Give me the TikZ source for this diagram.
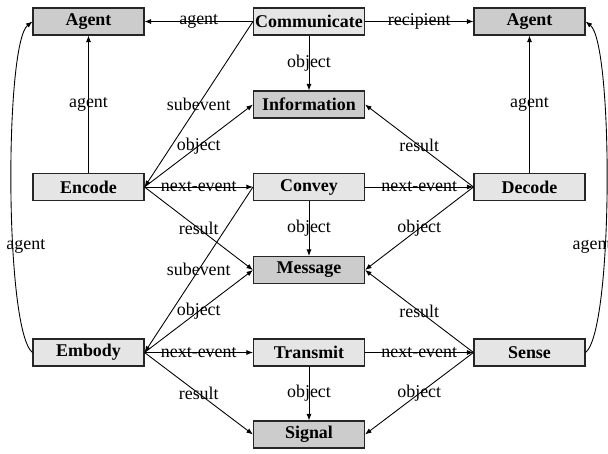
\documentclass[tikz,border=0pt]{standalone}
\usepackage{fontspec}
\setmainfont{Liberation Serif}
\usetikzlibrary{arrows.meta}

\definecolor{evfill}{gray}{0.9}
\definecolor{entfill}{gray}{0.8}

\begin{document}
\begin{tikzpicture}

% ---- Styles -----------------------------------------------------------------
\tikzset{
  box/.style={draw=black!85, line width=0.6pt, minimum width=\CW,
              minimum height=\RH, inner sep=0pt,
              font=\fontsize{10.2}{12}\selectfont\bfseries},
  ev/.style={box, fill=evfill},    % events
  ent/.style={box, fill=entfill},  % entities
  rel/.style={-{Latex[length=1.3mm,width=1mm]}, line width=0.5pt},
  lbl/.style={font=\fontsize{10.2}{12}\selectfont, inner sep=1pt},
}

\def\CW{2.22cm}  % box width
\def\RH{0.54cm}  % box height

\useasboundingbox (0,0) rectangle (12.16,-9.06);

% ---- Boxes ------------------------------------------------------------------
\node[ent] (agentL) at (1.77,-0.43)  {Agent};
\node[ev]  (comm)   at (6.18,-0.43)  {Communicate};
\node[ent] (agentR) at (10.59,-0.43) {Agent};
\node[ent] (info)   at (6.18,-2.09)  {Information};
\node[ev]  (encode) at (1.77,-3.74)  {Encode};
\node[ev]  (convey) at (6.18,-3.74)  {Convey};
\node[ev]  (decode) at (10.59,-3.74) {Decode};
\node[ent] (msg)    at (6.18,-5.40)  {Message};
\node[ev]  (embody) at (1.77,-7.05)  {Embody};
\node[ev]  (trans)  at (6.18,-7.05)  {Transmit};
\node[ev]  (sense)  at (10.59,-7.05) {Sense};
\node[ent] (signal) at (6.18,-8.69)  {Signal};

% ---- Communicate ------------------------------------------------------------
\draw[rel] (comm.west) -- node[lbl] {agent} (agentL.east);
\draw[rel] (comm.east) -- node[lbl] {recipient} (agentR.west);
\draw[rel] (comm.south) -- node[lbl] {object} (info.north);
\draw[rel] (comm.west) -- node[lbl] {subevent} (encode.east);
\draw[rel] (convey.west) -- node[lbl] {subevent} (embody.east);

% ---- Encode / Convey / Decode -----------------------------------------------
\draw[rel] (encode.north) -- node[lbl] {agent} (agentL.south);
\draw[rel] (encode.east) -- node[lbl] {object} (info.west);
\draw[rel] (encode.east) -- node[lbl] {next-event} (convey.west);
\draw[rel] (encode.east) -- node[lbl] {result} (msg.west);
\draw[rel] (convey.south) -- node[lbl] {object} (msg.north);
\draw[rel] (convey.east) -- node[lbl] {next-event} (decode.west);
\draw[rel] (decode.west) -- node[lbl] {result} (info.east);
\draw[rel] (decode.west) -- node[lbl] {object} (msg.east);
\draw[rel] (decode.north) -- node[lbl] {agent} (agentR.south);

% ---- Embody / Transmit / Sense ----------------------------------------------
\draw[rel] (embody.east) -- node[lbl] {object} (msg.west);
\draw[rel] (embody.east) -- node[lbl] {next-event} (trans.west);
\draw[rel] (embody.east) -- node[lbl] {result} (signal.west);
\draw[rel] (trans.south) -- node[lbl] {object} (signal.north);
\draw[rel] (trans.east) -- node[lbl] {next-event} (sense.west);
\draw[rel] (sense.west) -- node[lbl] {result} (msg.east);
\draw[rel] (sense.west) -- node[lbl] {object} (signal.east);

% ---- Outer agent curves -----------------------------------------------------
\draw[rel] (embody.west) .. controls +(-0.56,0.44) and +(-0.56,-0.44)
  .. node[lbl, pos=0.37, xshift=0.26cm] {agent} (agentL.west);
\draw[rel] (sense.east) .. controls +(0.56,0.44) and +(0.56,-0.44)
  .. node[lbl, pos=0.37, xshift=-0.26cm] {agent} (agentR.east);

\end{tikzpicture}
\end{document}
